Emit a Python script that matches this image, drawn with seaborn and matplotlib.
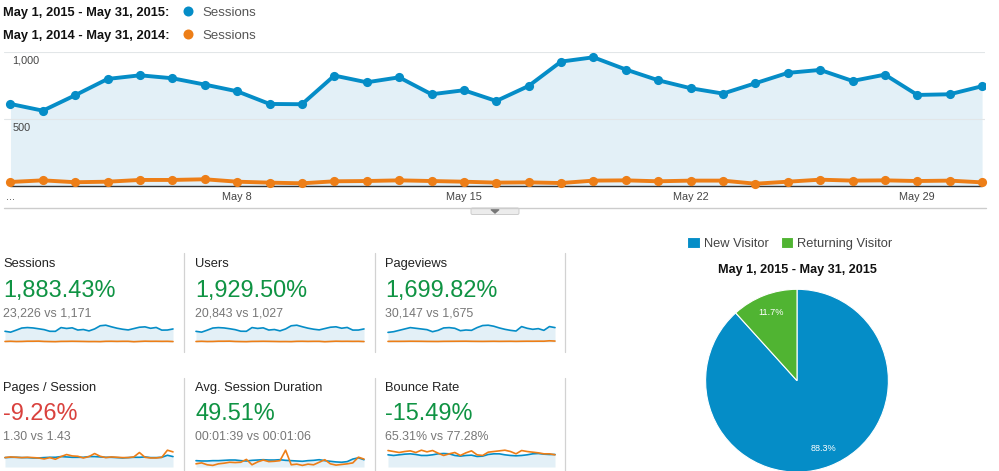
import seaborn as sns
import matplotlib.pyplot as plt
from matplotlib.patches import FancyBboxPatch, Polygon
from matplotlib.transforms import ScaledTranslation

# Daily values, May 1-31
days = list(range(1, 32))
sessions_2015 = [610, 560, 675, 796, 823, 801, 754, 704, 610, 608, 821, 771, 808, 682, 712, 632,
                 744, 925, 957, 866, 786, 727, 687, 764, 841, 863, 781, 828, 677, 682, 742]
sessions_2014 = [30, 42, 28, 32, 45, 45, 50, 32, 25, 20, 35, 37, 42, 37, 32, 25,
                 27, 22, 40, 42, 35, 40, 40, 17, 32, 47, 40, 42, 37, 40, 27]
users_2015 = [545, 505, 605, 715, 738, 720, 680, 632, 552, 548, 738, 695, 725, 612, 640, 570,
              668, 830, 860, 780, 708, 655, 620, 688, 756, 778, 705, 745, 610, 612, 668]
users_2014 = [26, 37, 25, 28, 40, 40, 44, 28, 22, 18, 31, 33, 37, 33, 28, 22,
              24, 20, 35, 37, 31, 35, 35, 15, 28, 41, 35, 37, 33, 35, 24]
pageviews_2015 = [717, 768, 870, 973, 1075, 1024, 973, 922, 768, 870, 1050, 1075, 1024, 845, 896, 870,
                  1075, 1229, 1254, 1178, 1050, 947, 870, 819, 1152, 1024, 947, 998, 870, 1152, 1075]
pageviews_2014 = [45, 50, 48, 52, 58, 55, 52, 45, 42, 40, 50, 52, 55, 58, 60, 52,
                  48, 45, 50, 55, 48, 52, 55, 48, 55, 60, 58, 62, 60, 90, 70]
pages_2015 = [1.30, 1.34, 1.34, 1.30, 1.30, 1.25, 1.25, 1.30, 1.34, 1.34, 1.44, 1.39, 1.34, 1.34, 1.34, 1.44,
              1.44, 1.39, 1.34, 1.34, 1.30, 1.25, 1.30, 1.34, 1.34, 1.39, 1.30, 1.30, 1.34, 1.62, 1.44]
pages_2014 = [1.30, 1.39, 1.34, 1.30, 1.34, 1.30, 1.25, 1.11, 1.30, 1.07, 1.44, 1.72, 1.53, 1.48, 1.25, 1.44,
              1.86, 1.48, 1.30, 1.39, 1.34, 1.30, 1.30, 1.39, 2.00, 1.34, 1.25, 1.25, 1.34, 2.32, 2.09]
duration_2015 = [100, 95, 95, 100, 100, 105, 110, 110, 100, 95, 105, 110, 115, 110, 110, 115,
                 105, 100, 95, 90, 100, 105, 115, 100, 90, 80, 75, 85, 125, 145, 115]
duration_2014 = [50, 65, 35, 25, 50, 60, 75, 70, 75, 120, 35, 80, 110, 85, 90, 100,
                 265, 35, 45, 25, 45, 35, 75, 115, 50, 30, 40, 50, 65, 155, 125]
bounce_2015 = [65.3, 61.8, 65.3, 68.8, 70.6, 67.1, 61.8, 61.8, 65.3, 70.6, 72.4, 70.6, 61.8, 58.2, 61.8, 63.5,
               56.5, 58.2, 67.1, 70.6, 70.6, 65.3, 61.8, 60.0, 61.8, 65.3, 70.6, 72.4, 68.8, 67.1, 67.1]
bounce_2014 = [88.3, 83.0, 77.7, 83.0, 86.5, 77.7, 90.0, 81.2, 88.3, 74.1, 61.8, 70.6, 77.7, 61.8, 75.9, 86.5,
               65.3, 61.8, 79.4, 83.0, 86.5, 90.0, 83.0, 70.6, 88.3, 83.0, 79.4, 75.9, 70.6, 70.6, 65.3]

metric_names = ['Sessions', 'Users', 'Pageviews', 'Pages / Session', 'Avg. Session Duration', 'Bounce Rate']
metric_changes = ['1,883.43%', '1,929.50%', '1,699.82%', '-9.26%', '49.51%', '-15.49%']
metric_compare = ['23,226 vs 1,171', '20,843 vs 1,027', '30,147 vs 1,675',
                  '1.30 vs 1.43', '00:01:39 vs 00:01:06', '65.31% vs 77.28%']
metric_good = [True, True, True, False, True, True]
metric_2015 = [sessions_2015, users_2015, pageviews_2015, pages_2015, duration_2015, bounce_2015]
metric_2014 = [sessions_2014, users_2014, pageviews_2014, pages_2014, duration_2014, bounce_2014]

visitor_labels = ['New Visitor', 'Returning Visitor']
visitor_share = [88.3, 11.7]

BLUE = '#058dc7'
ORANGE = '#ed7e17'
GREEN = '#50b432'
FILL = '#e3f0f7'
W, H = 999, 471

sns.set_style('white')
plt.rcParams['font.family'] = ['Liberation Sans', 'DejaVu Sans']

fig = plt.figure(figsize=(W / 100, H / 100), dpi=100)


def px_axes(left, top, right, bottom):
    # axes from pixel edges, y counted from the top of the picture
    return fig.add_axes([left / W, 1 - bottom / H, (right - left) / W, (bottom - top) / H])


# Overlay in pixel coordinates for the text and the little furniture
overlay = fig.add_axes([0, 0, 1, 1], zorder=5)
overlay.set_xlim(0, W)
overlay.set_ylim(H, 0)
overlay.axis('off')

# Top legend
for y, base, period, color in [(11, 15.7, 'May 1, 2015 - May 31, 2015:', BLUE),
                               (34, 39, 'May 1, 2014 - May 31, 2014:', ORANGE)]:
    overlay.text(3, base, period, fontsize=9.3, fontweight='bold', color='#111111', va='baseline')
    overlay.scatter([188], [y], s=52, color=color, linewidths=0)
    overlay.text(202, base, 'Sessions', fontsize=9.5, color='#555555', va='baseline')

# Main chart
ax = px_axes(4, 51.5, 985, 186)
ax.fill_between(days, sessions_2015, color=FILL, linewidth=0)
sns.lineplot(x=days, y=sessions_2015, ax=ax, color=BLUE, linewidth=2.8, marker='o',
             markersize=6.6, markeredgewidth=0, zorder=3)
sns.lineplot(x=days, y=sessions_2014, ax=ax, color=ORANGE, linewidth=2.8, marker='o',
             markersize=6.6, markeredgewidth=0, zorder=4, clip_on=False)
ax.set_xlim(0.8, 31.09)
ax.set_ylim(0, 1000)
ax.set_xticks([1, 8, 15, 22, 29])
ax.set_xticklabels(['...', 'May 8', 'May 15', 'May 22', 'May 29'])
ax.set_yticks([500, 1000])
ax.set_yticklabels(['500', '1,000'], ha='left', va='top')
ax.tick_params(axis='x', length=0, pad=4.5, labelsize=7.8, labelcolor='#444444')
ax.tick_params(axis='y', length=0, pad=-6, labelsize=7.8, labelcolor='#444444')
# y labels sit a little under their grid lines
label_shift = ScaledTranslation(0, -3 / 72, fig.dpi_scale_trans)
for lab in ax.get_yticklabels():
    lab.set_verticalalignment('top')
    lab.set_transform(lab.get_transform() + label_shift)
ax.grid(axis='y', color='#e2e6e8', linewidth=0.8)
ax.set_axisbelow(False)
for side in ax.spines:
    ax.spines[side].set_visible(False)
ax.hlines(0, days[0], days[-1], color='#333333', linewidth=1.0, zorder=2, clip_on=False)
ax.patch.set_alpha(0)

# Rule and drag handle under the chart
overlay.plot([4, 986], [207.5, 207.5], color='#cccccc', linewidth=1)
overlay.add_patch(FancyBboxPatch((471, 208), 48, 6.5, boxstyle='round,pad=0,rounding_size=1.5',
                                 facecolor='#ececec', edgecolor='#cccccc', linewidth=0.7))
overlay.add_patch(Polygon([(491, 209.5), (499, 209.5), (495, 213)], color='#777777'))

# Metric tiles with sparklines
tile_left = [3, 195, 385]
tile_spark = [(5, 173), (196, 364), (388, 555)]
row_text = [(266.7, 296.7, 316), (391, 420, 440)]
row_spark = [(320, 342), (445, 467)]
rule_rows = [(253, 352), (378, 471)]

for i, name in enumerate(metric_names):
    col, row = i % 3, i // 3
    y_name, y_change, y_compare = row_text[row]
    overlay.text(tile_left[col], y_name, name, fontsize=9.3, color='#222222', va='baseline')
    overlay.text(tile_left[col], y_change, metric_changes[i], fontsize=16.9, va='baseline',
                 color='#0f9343' if metric_good[i] else '#d9413d')
    overlay.text(tile_left[col], y_compare, metric_compare[i], fontsize=8.9, color='#777777', va='baseline')

    sp = px_axes(tile_spark[col][0], row_spark[row][0], tile_spark[col][1], row_spark[row][1])
    sp.fill_between(days, metric_2015[i], color=FILL, linewidth=0)
    sns.lineplot(x=days, y=metric_2015[i], ax=sp, color=BLUE, linewidth=1.2, clip_on=False)
    sns.lineplot(x=days, y=metric_2014[i], ax=sp, color=ORANGE, linewidth=1.2, clip_on=False)
    sp.set_xlim(days[0], days[-1])
    sp.set_ylim(0, max(metric_2015[i] + metric_2014[i]) * 1.31)
    sp.axis('off')

for x in [184, 374.5, 565]:
    for top, bottom in rule_rows:
        overlay.plot([x, x], [top, bottom], color='#d2d2d2', linewidth=0.9)

# Pie
pie_ax = px_axes(797 - 91.4, 380.7 - 91.4, 797 + 91.4, 380.7 + 91.4)
wedges, _, autotexts = pie_ax.pie(visitor_share, colors=[BLUE, GREEN], startangle=90, counterclock=False,
                                  autopct='%.1f%%', pctdistance=0.8, radius=1,
                                  wedgeprops={'edgecolor': 'white', 'linewidth': 0.8},
                                  textprops={'color': 'white', 'fontsize': 6.6})
pie_ax.set_xlim(-1, 1)
pie_ax.set_ylim(-1, 1)
overlay.text(797, 273, 'May 1, 2015 - May 31, 2015', fontsize=9.1, fontweight='bold',
             color='#111111', ha='center', va='baseline')
overlay.legend(wedges, visitor_labels, loc='center', bbox_to_anchor=(790, 243.3),
               bbox_transform=overlay.transData, ncol=2, frameon=False, fontsize=9.3,
               handlelength=0.95, handleheight=0.95, handletextpad=0.35, columnspacing=0.9,
               labelcolor='#444444')

fig.savefig('out.png', dpi=100)
